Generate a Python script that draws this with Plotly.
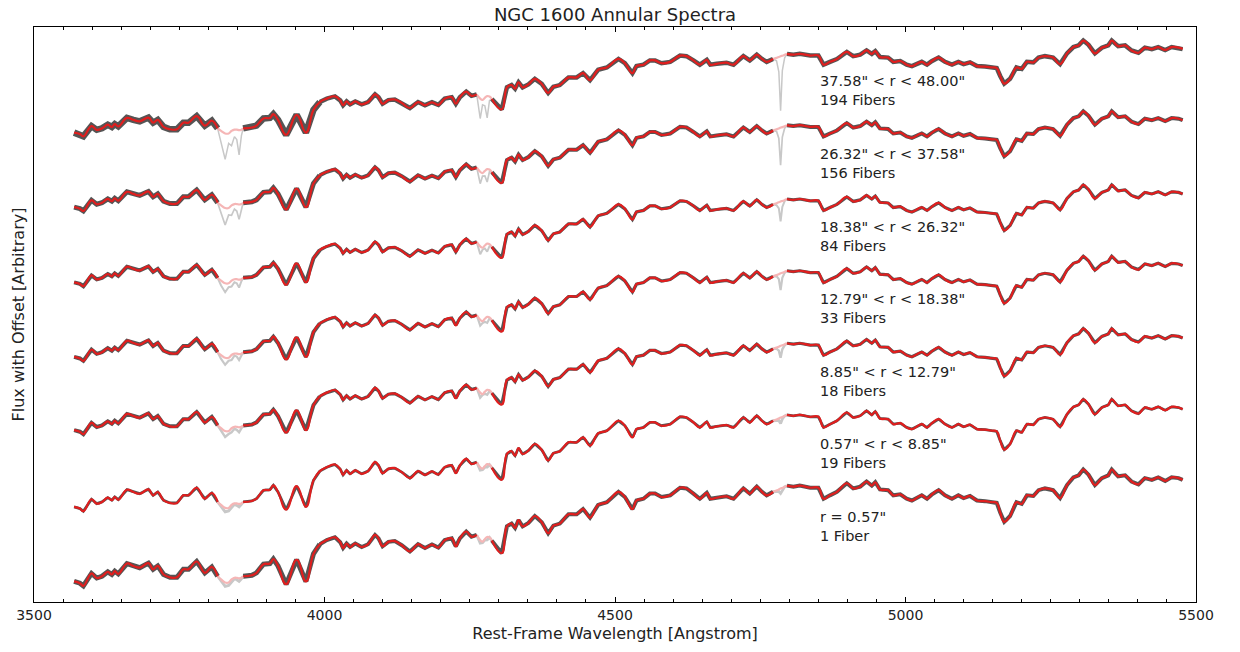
import plotly.graph_objects as go

# ---------------- data ----------------
# rest-frame wavelength nodes [Angstrom]
wavelength = [
    3569, 3579, 3585, 3599, 3608, 3617, 3627, 3634, 3639, 3645, 3660, 3671, 3682, 3697,
    3705, 3713, 3723, 3734, 3746, 3757, 3766, 3780, 3794, 3806,
    3816, 3822, 3829, 3835, 3840, 3845, 3849, 3853, 3857, 3860,
    3875, 3883, 3895, 3906, 3912, 3920, 3934, 3952, 3968, 3981, 3992, 4004, 4018, 4027,
    4032, 4038, 4044, 4053, 4064, 4075, 4087, 4093, 4100, 4110, 4121, 4133, 4147, 4161,
    4173, 4185, 4196, 4207, 4219, 4226, 4233, 4244, 4253,
    4262, 4268, 4272, 4276, 4280, 4284, 4288,
    4305, 4314, 4322, 4328, 4334, 4341, 4351, 4362, 4374, 4385, 4394, 4405, 4420, 4434,
    4445, 4457, 4471, 4486, 4506, 4517, 4530, 4537, 4549, 4560, 4569, 4580, 4595, 4612,
    4623, 4635, 4646, 4658, 4664, 4675, 4692, 4704, 4721, 4732, 4744, 4753, 4761,
    4772, 4778, 4782, 4785, 4788, 4792, 4796,
    4807, 4818, 4836, 4850, 4859, 4870, 4882, 4899, 4910, 4922, 4933, 4942, 4948, 4956,
    4970, 4979, 4991, 5002, 5011, 5028, 5037, 5045, 5057, 5068, 5080, 5091, 5100, 5111,
    5123, 5137, 5148, 5157, 5163, 5170, 5180, 5191, 5200, 5209, 5220, 5229, 5240, 5254,
    5266, 5278, 5289, 5298, 5306, 5315, 5326, 5338, 5349, 5355, 5366, 5378, 5389, 5401,
    5412, 5424, 5435, 5447, 5458, 5470, 5477,
]

# model spectrum shape (arbitrary flux units, relative to the blue end)
template = [
    0.0, -1.7, -4.3, 7.7, 3.3, 5.0, 9.3, 6.7, 10.0, 7.3, 17.3, 15.0, 13.3, 17.7,
    11.7, 15.0, 6.7, 4.0, 4.0, 11.7, 11.7, 19.3, 8.3, 14.0,
    5.0, 2.0, -1.0, -1.0, 2.0, 3.5, 3.5, 3.0, 3.5, 5.0,
    6.0, 8.3, 16.7, 17.3, 21.7, 15.0, -2.7, 21.0, 0.0, 26.7, 36.0, 40.0, 42.7, 38.0,
    32.3, 36.7, 33.3, 36.7, 33.3, 36.0, 45.0, 41.7, 34.0, 38.3, 39.0, 35.0, 29.0, 36.0,
    32.3, 35.7, 32.7, 40.0, 41.7, 34.0, 41.7, 48.3, 43.3,
    45.0, 40.0, 38.5, 41.0, 43.0, 42.5, 39.5,
    27.3, 53.3, 56.0, 51.7, 59.3, 53.3, 56.7, 63.3, 57.3, 46.7, 54.0, 56.0, 65.0, 65.0,
    70.0, 61.7, 74.0, 76.7, 86.7, 81.7, 70.0, 78.3, 80.0, 85.0, 85.0, 81.7, 83.3, 90.7,
    90.0, 85.0, 80.0, 85.7, 80.0, 81.0, 82.3, 80.0, 90.0, 85.0, 91.7, 86.7, 83.3,
    86.7, 88.0, 89.0, 90.0, 90.5, 91.5, 92.7,
    91.7, 92.7, 90.7, 90.7, 80.0, 83.3, 86.7, 95.0, 90.0, 91.7, 96.7, 92.7, 96.0, 89.0,
    88.3, 83.3, 84.3, 80.0, 78.3, 83.3, 80.0, 84.0, 88.3, 83.3, 80.0, 83.3, 80.7, 82.7,
    78.3, 77.7, 76.7, 76.0, 66.7, 57.7, 63.3, 76.7, 75.0, 83.3, 82.7, 88.3, 90.0, 88.3,
    80.7, 93.3, 100.7, 102.7, 108.3, 103.3, 93.3, 100.0, 102.7, 108.3, 101.7, 102.7, 96.7, 94.0,
    100.0, 98.3, 100.7, 97.3, 100.7, 100.0, 98.3,
]

# masked wavelength windows
mask_ranges = [(3816, 3860), (4262, 4288), (4772, 4796)]

# data-minus-model inside the masked windows, one row per annulus (outer -> centre)
mask_a_wave = [3816, 3822, 3829, 3835, 3840, 3845, 3849, 3853, 3857, 3860]
resid_a = [
    [0, -12, -26, -10, -15, -7, -10, -25, -6, 0],
    [0, -8, -17, -7, -10, -5, -7, -15, -4, 0],
    [0, -5, -9, -4, -6, -3, -4, -8, -2, 0],
    [0, -4, -7, -3, -5, -2, -3, -6, -2, 0],
    [0, -3, -6, -3, -4, -2, -3, -5, -1, 0],
    [0, -2, -4, -3, -3, -1, -2, -3, -1, 0],
    [0, -2, -4, -3, -3, -1, -2, -3, -1, 0],
]
mask_b_wave = [4262, 4268, 4272, 4276, 4280, 4284, 4288]
resid_b = [
    [0, -20, -5, -8, -22, -4, 0],
    [0, -12, -3, -5, -13, -2, 0],
    [0, -8, -2, -3, -8, -2, 0],
    [0, -6, -2, -3, -6, -1, 0],
    [0, -5, -1, -2, -5, -1, 0],
    [0, -3, -1, -1, -3, 0, 0],
    [0, -3, -1, -1, -3, 0, 0],
]
mask_c_wave = [4772, 4778, 4782, 4785, 4788, 4792, 4796]
resid_c = [
    [0, -3, -15, -55, -15, -3, 0],
    [0, -2, -10, -38, -10, -2, 0],
    [0, -2, -6, -20, -6, -1, 0],
    [0, -1, -5, -17, -5, -1, 0],
    [0, -1, -4, -12, -4, -1, 0],
    [0, -1, -2, -6, -2, 0, 0],
    [0, -1, -2, -5, -2, 0, 0],
]

# per-annulus flux offset and normalisation
offsets = [472.4, 397.4, 321.7, 246.7, 173.0, 95.7, 20.7]
scales = [0.855, 0.89, 0.905, 0.935, 0.943, 1.0, 1.04]

range_labels = ['37.58" < r < 48.00"', '26.32" < r < 37.58"', '18.38" < r < 26.32"',
                '12.79" < r < 18.38"', '8.85" < r < 12.79"', '0.57" < r < 8.85"', 'r = 0.57"']
fiber_labels = ['194 Fibers', '156 Fibers', '84 Fibers', '33 Fibers', '18 Fibers',
                '19 Fibers', '1 Fiber']

# ---------------- styling ----------------
RED = "#e01e1e"
PINK = "#f5b6b6"
DARK = "#555555"
LIGHT = "#c8c8c8"
FONT = "DejaVu Sans"
data_width_blue = [6.5, 5, 4, 4, 4, 2.8, 5]
data_width_red = [4.5, 4, 3.2, 3.2, 3.2, 2.8, 4]
mask_width = [1.5, 1.7, 2.0, 2.2, 2.4, 2.8, 2.8]
label_y_px = [90.5, 164.5, 237.5, 310.5, 383.5, 456.5, 529.5]

PLOT_TOP, PLOT_BOTTOM = 27, 605.7
Y_SPAN = PLOT_BOTTOM - PLOT_TOP

w0, w1 = wavelength[0], wavelength[-1]
unmasked = []
prev = w0
for lo, hi in mask_ranges:
    unmasked.append((prev, lo))
    prev = hi
unmasked.append((prev, w1))


def join(runs, vals):
    X, Y = [], []
    for lo, hi in runs:
        for w, v in zip(wavelength, vals):
            if lo <= w <= hi:
                X.append(w)
                Y.append(v)
        X.append(None)
        Y.append(None)
    return X, Y


def split_runs(runs, cut, side):
    out = []
    for lo, hi in runs:
        if side == "blue":
            if lo < cut:
                out.append((lo, min(hi, cut)))
        else:
            if hi > cut:
                out.append((max(lo, cut), hi))
    return out


fig = go.Figure()
CUT = 3992
for i in range(len(offsets)):
    model = [offsets[i] + scales[i] * t for t in template]
    resid = {}
    for mw, rr in ((mask_a_wave, resid_a[i]), (mask_b_wave, resid_b[i]), (mask_c_wave, resid_c[i])):
        for w, r in zip(mw, rr):
            resid[w] = r
    data = [m + resid.get(w, 0) for w, m in zip(wavelength, model)]

    # masked data (light grey)
    x, y = join(mask_ranges, data)
    fig.add_trace(go.Scatter(x=x, y=y, mode="lines", line=dict(color=LIGHT, width=mask_width[i]),
                             hoverinfo="skip", showlegend=False))
    # unmasked data (dark grey, noise shown as line thickness)
    for side, wdt in (("blue", data_width_blue[i]), ("red", data_width_red[i])):
        x, y = join(split_runs(unmasked, CUT, side), data)
        fig.add_trace(go.Scatter(x=x, y=y, mode="lines", line=dict(color=DARK, width=wdt),
                                 hoverinfo="skip", showlegend=False))
    # masked model (pink)
    x, y = join(mask_ranges, model)
    fig.add_trace(go.Scatter(x=x, y=y, mode="lines",
                             line=dict(color=PINK, width=2.2, shape="spline", smoothing=1.3),
                             hoverinfo="skip", showlegend=False))
    # model (red)
    x, y = join(unmasked, model)
    fig.add_trace(go.Scatter(x=x, y=y, mode="lines",
                             line=dict(color=RED, width=2.2, shape="spline", smoothing=1.3),
                             hoverinfo="skip", showlegend=False))

    fig.add_annotation(x=4850, y=Y_SPAN - (label_y_px[i] - PLOT_TOP), xref="x", yref="y",
                       text=range_labels[i] + "<br>" + fiber_labels[i], showarrow=False,
                       xanchor="left", yanchor="middle", align="left",
                       font=dict(family=FONT, size=14.5, color="#222"))

fig.update_layout(
    width=1240, height=652,
    margin=dict(l=34, r=44, t=27, b=46),
    paper_bgcolor="white", plot_bgcolor="white",
    showlegend=False,
    title=dict(text="NGC 1600 Annular Spectra", x=0.5, xref="paper", xanchor="center",
               y=1 - 15 / 652, yanchor="middle", font=dict(family=FONT, size=18, color="#222")),
    font=dict(family=FONT, color="#222"),
)
fig.update_xaxes(
    range=[3500, 5500], tick0=3500, dtick=500, ticks="inside", ticklen=5, tickcolor="black",
    tickfont=dict(family=FONT, size=14, color="#222"),
    minor=dict(ticks="inside", dtick=50, ticklen=3, tickcolor="black"),
    showline=True, linecolor="black", linewidth=1, mirror="allticks",
    showgrid=False, zeroline=False,
    title=dict(text="Rest-Frame Wavelength [Angstrom]", font=dict(family=FONT, size=16, color="#222"),
               standoff=6),
)
fig.update_yaxes(
    range=[0, Y_SPAN], showticklabels=False, ticks="", showline=True, linecolor="black",
    linewidth=1, mirror=True, showgrid=False, zeroline=False,
    title=dict(text="Flux with Offset [Arbitrary]", font=dict(family=FONT, size=16, color="#222"),
               standoff=4),
)

fig.write_html("out.html")
